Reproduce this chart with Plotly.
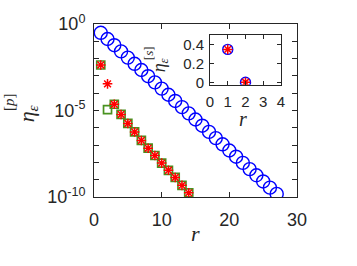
import plotly.graph_objects as go

# ---- data ----
r_blue = list(range(1, 28))
eta_blue = [0.309, 0.1355, 0.0594, 0.0261, 0.01143, 0.00501, 0.00220, 9.64e-4, 4.23e-4,
            1.85e-4, 8.13e-5, 3.56e-5, 1.56e-5, 6.85e-6, 3.01e-6, 1.32e-6, 5.78e-7,
            2.54e-7, 1.11e-7, 4.88e-8, 2.14e-8, 9.38e-9, 4.11e-9, 1.80e-9, 7.91e-10,
            3.47e-10, 1.52e-10]
r_green = list(range(1, 15))
eta_green = [4.27e-3, 1.12e-5, 2.29e-5, 5.9e-6, 1.78e-6, 5.75e-7, 1.86e-7, 6.6e-8,
             2.5e-8, 9.1e-9, 3.5e-9, 1.35e-9, 4.7e-10, 1.74e-10]
r_red = list(range(1, 15))
eta_red = [4.27e-3, 3.47e-4, 2.29e-5, 5.9e-6, 1.78e-6, 5.75e-7, 1.86e-7, 6.6e-8,
           2.5e-8, 9.1e-9, 3.5e-9, 1.35e-9, 4.7e-10, 1.74e-10]
r_inset = [1, 2]
eta_s_blue = [0.35, 0.0]
eta_s_red = [0.35, 0.0]

x_ticks = [0, 10, 20, 30]
y_label_exps = [0, -5, -10]
y_minor_exps = [-9, -8, -7, -6, -4, -3, -2, -1]
inset_x_ticks = [0, 1, 2, 3, 4]
inset_y_ticks = [0, 0.2, 0.4]

# ---- layout geometry (pixels) ----
W, H = 357, 266
L, R, T, B = 94, 297, 13, 197   # plot frame
pw, ph = R - L, B - T

def px(xp):
    return (xp - L) / pw

def py(yp):
    return (B - yp) / ph

AX = "#262626"
BLUE = "#0000ff"
GREEN = "#48921f"
RED = "#ff0000"
FONT = "Liberation Sans"
SERIF = "Liberation Serif"

fig = go.Figure()
fig.add_trace(go.Scatter(x=r_blue, y=eta_blue, mode="markers",
                         marker=dict(symbol="circle-open", size=13, color=BLUE,
                                     line=dict(width=1.4, color=BLUE)),
                         xaxis="x", yaxis="y", showlegend=False))
fig.add_trace(go.Scatter(x=r_green, y=eta_green, mode="markers",
                         marker=dict(symbol="square-open", size=8, color=GREEN,
                                     line=dict(width=1.7, color=GREEN)),
                         xaxis="x", yaxis="y", showlegend=False))
fig.add_trace(go.Scatter(x=r_red, y=eta_red, mode="markers",
                         marker=dict(symbol="asterisk-open", size=8, color=RED,
                                     line=dict(width=1.5, color=RED)),
                         xaxis="x", yaxis="y", showlegend=False))
fig.add_trace(go.Scatter(x=r_inset, y=eta_s_blue, mode="markers",
                         marker=dict(symbol="circle-open", size=10, color=BLUE,
                                     line=dict(width=1.4, color=BLUE)),
                         xaxis="x2", yaxis="y2", showlegend=False))
fig.add_trace(go.Scatter(x=r_inset, y=eta_s_red, mode="markers",
                         marker=dict(symbol="asterisk-open", size=8, color=RED,
                                     line=dict(width=1.5, color=RED)),
                         xaxis="x2", yaxis="y2", showlegend=False))

axis_common = dict(showline=True, linecolor=AX, linewidth=1, mirror="ticks",
                   ticks="inside", tickcolor=AX, ticklen=5, tickwidth=1,
                   showgrid=False, zeroline=False,
                   tickfont=dict(family=FONT, size=18, color=AX))

inset_common = {**axis_common, "tickfont": dict(family=FONT, size=15, color=AX), "ticklen": 4}

fig.update_layout(
    width=W, height=H,
    margin=dict(l=L, r=W - R, t=T, b=H - B, pad=0),
    paper_bgcolor="white", plot_bgcolor="white",
    xaxis=dict(range=[0, 30], tickvals=x_ticks, domain=[0, 1], ticklabelstandoff=6,
               **axis_common),
    yaxis=dict(type="log", range=[-10, 0],
               tickvals=[10.0 ** e for e in y_label_exps],
               ticktext=["10<sup>%d</sup>" % e for e in y_label_exps],
               minor=dict(tickvals=[10.0 ** e for e in y_minor_exps], ticks="inside",
                          ticklen=5, tickcolor=AX, showgrid=False),
               domain=[0, 1], ticklabelstandoff=4, **axis_common),
    xaxis2=dict(range=[0, 4], tickvals=inset_x_ticks, anchor="y2",
                domain=[px(210), px(281)], ticklabelstandoff=3, **inset_common),
    yaxis2=dict(range=[-0.027, 0.5], tickvals=inset_y_ticks, anchor="x2",
                domain=[py(77.7), py(25)], ticklabelstandoff=2, **inset_common),
)

def lab(text, xp, yp, size, angle=0):
    return dict(text=text, x=px(xp), y=py(yp), xref="paper", yref="paper",
                xanchor="center", yanchor="middle", showarrow=False, textangle=angle,
                font=dict(family=SERIF, size=size, color=AX))

ann = [
    lab("<i>r</i>", 195, 236, 22),
    lab("<i>η</i><sub><i>ε</i></sub>", 28, 108, 22, -90),
    lab("[<i>p</i>]", 9, 96, 15, -90),
    lab("<i>r</i>", 243, 114, 20),
    lab("<i>η</i><sub><i>ε</i></sub>", 160, 57, 18, -90),
    lab("[<i>s</i>]", 148, 44, 13, -90),
]
fig.update_layout(annotations=ann)

fig.write_html("out.html", config={"displayModeBar": False},
               post_script="document.body.style.margin='0px';")
